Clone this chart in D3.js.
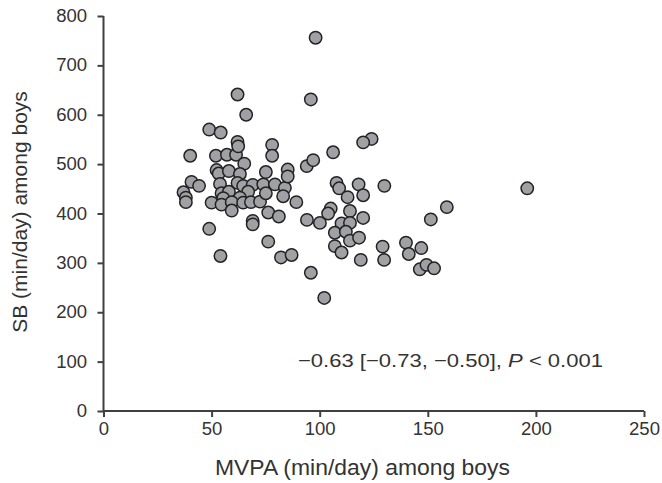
<!DOCTYPE html>
<html><head><meta charset="utf-8">
<script src="https://cdn.jsdelivr.net/npm/d3@7"></script>
<style>body{margin:0;background:#fff}svg{display:block}text{font-family:"Liberation Sans",Arial,sans-serif;fill:#333}</style>
</head><body>
<svg id="c" width="662" height="483"></svg>
<script>
const mvpa = [37.0,38.1,38.1,40.7,44.2,40.1,48.9,54.2,52.0,57.1,61.3,62.0,66.0,62.0,62.3,65.1,52.3,53.3,58.0,63.1,53.9,62.0,64.6,69.0,54.6,58.0,66.9,55.4,63.1,50.0,54.6,59.3,64.6,68.2,59.3,48.9,54.1,69.0,69.0,
72.4,73.9,75.1,78.0,78.0,79.3,83.9,85.2,85.2,75.1,83.1,76.2,81.1,89.2,76.2,82.1,87.0,94.0,97.0,106.2,98.1,95.9,94.1,100.1,95.9,102.1,
107.8,109.0,112.9,118.0,120.1,129.9,105.1,103.9,114.0,120.1,110.1,114.0,107.0,112.1,114.0,118.2,107.0,110.1,119.0,129.1,129.8,
139.9,141.2,147.0,146.3,149.4,152.9,151.4,158.8,196.0,124.0,120.1];
const sb = [443,432,423,464,456,517,570,564,517,519,519,641,600,545,536,501,488,481,486,480,460,462,456,458,441,444,444,431,432,422,418,423,422,423,406,369,314,385,378,
424,459,484,539,517,459,452,489,475,441,435,402,394,423,343,311,316,496,508,524,756,631,387,381,280,229,
462,451,433,459,437,456,410,400,405,391,380,381,361,363,345,351,334,321,306,333,306,
341,318,330,287,296,289,388,413,451,551,544];
const xTicks = [0,50,100,150,200,250];
const yTicks = [0,100,200,300,400,500,600,700,800];
const xTitle = "MVPA (min/day) among boys";
const yTitle = "SB (min/day) among boys";

const svg = d3.select("#c");
const x = d3.scaleLinear().domain([0,250]).range([103.5,644]);
const y = d3.scaleLinear().domain([0,800]).range([411,16]);
const axisCol = "#404040";

const gx = svg.append("g").attr("transform","translate(0,411)")
  .call(d3.axisBottom(x).tickValues(xTicks).tickSize(6).tickPadding(6).tickFormat(d3.format("d")));
const gy = svg.append("g").attr("transform","translate(103.5,0)")
  .call(d3.axisLeft(y).tickValues(yTicks).tickSize(6).tickPadding(10).tickFormat(d3.format("d")));
[gx,gy].forEach(g=>{
  g.select(".domain").attr("stroke",axisCol).attr("stroke-width",2);
  g.selectAll(".tick line").attr("stroke",axisCol).attr("stroke-width",2);
  g.selectAll(".tick text").attr("font-size",17.5).attr("fill","#333").attr("font-family","Liberation Sans, Arial, sans-serif");
});
gx.selectAll(".tick text").attr("transform","scale(1.06,1)");
gy.selectAll(".tick text").attr("x",-15.5).attr("transform","scale(1.06,1)");
gx.select(".domain").attr("d","M103.5,0H644");
gy.select(".domain").attr("d","M0,411V16");

svg.append("g").selectAll("circle").data(mvpa.map((v,i)=>[v,sb[i]])).join("circle")
  .attr("cx",d=>x(d[0])).attr("cy",d=>y(d[1])).attr("r",6.2)
  .attr("fill","#a0a1a5").attr("stroke","#222").attr("stroke-width",1.5);

svg.append("text").attr("x",215).attr("y",475).attr("font-size",22)
  .attr("textLength",295).attr("lengthAdjust","spacingAndGlyphs").text(xTitle);
svg.append("text").attr("transform","translate(27,212) rotate(-90)").attr("text-anchor","middle").attr("font-size",21).text(yTitle);

const ann = svg.append("text").attr("x",298).attr("y",367).attr("font-size",19)
  .attr("textLength",305).attr("lengthAdjust","spacingAndGlyphs");
ann.append("tspan").text("\u22120.63 [\u22120.73, \u22120.50], ");
ann.append("tspan").attr("font-style","italic").text("P");
ann.append("tspan").text(" < 0.001");
</script>
</body></html>
